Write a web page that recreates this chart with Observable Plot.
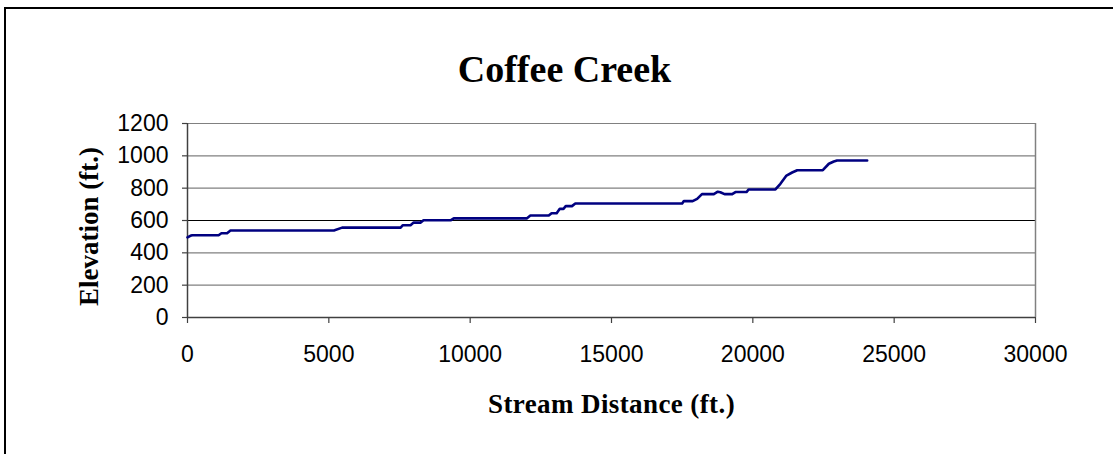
<!DOCTYPE html>
<html>
<head>
<meta charset="utf-8">
<script src="https://cdn.jsdelivr.net/npm/d3@7"></script>
<script src="https://cdn.jsdelivr.net/npm/@observablehq/plot@0.6"></script>
<style>
  html, body { margin: 0; padding: 0; background: #fff; overflow: hidden; }
  #wrap { position: relative; width: 1113px; height: 454px; overflow: hidden; }
  #frame { position: absolute; left: 4px; top: 7px; width: 2000px; height: 2000px; border: 2px solid #000; box-sizing: border-box; }
  #chart { position: absolute; left: 0; top: 0; }
</style>
</head>
<body>
<div id="wrap"><div id="frame"></div><div id="chart"></div></div>
<script>
const titleText = "Coffee Creek";
const xLabel = "Stream Distance (ft.)";
const yLabel = "Elevation (ft.)";
const xTicks = [0, 5000, 10000, 15000, 20000, 25000, 30000];
const yTicks = [0, 200, 400, 600, 800, 1000, 1200];

const distance = [0, 100, 170, 1100, 1200, 1400, 1520, 5180, 5470, 7540, 7620, 7890, 8000, 8240, 8350, 9320, 9420, 12000, 12130, 12780, 12880, 13060, 13170, 13300, 13380, 13600, 13720, 17500, 17560, 17870, 18030, 18200, 18620, 18760, 18850, 19000, 19270, 19385, 19775, 19855, 20800, 20975, 21190, 21390, 21570, 22475, 22690, 22865, 22980, 24045];
const elevation = [495, 505, 509, 509, 521, 521, 538, 538, 556, 556, 571, 571, 587, 587, 602, 602, 613, 613, 631, 631, 645, 645, 672, 672, 689, 689, 705, 705, 720, 720, 734, 763, 763, 778, 775, 763, 763, 776, 776, 792, 792, 827, 878, 897, 911, 911, 951, 965, 971, 971];

const data = distance.map((d, i) => ({distance: d, elevation: elevation[i]}));
const gridValues = yTicks.filter(v => v > 0);

const chart = Plot.plot({
  width: 1113,
  height: 454,
  marginLeft: 187,
  marginRight: 78,
  marginTop: 123,
  marginBottom: 137,
  style: {fontFamily: "'Liberation Sans', Arial, sans-serif", fontSize: "23px", color: "#000", background: "transparent", overflow: "visible"},
  x: {domain: [0, 30000]},
  y: {domain: [0, 1200]},
  marks: [
    Plot.ruleY(gridValues, {stroke: d => d === 600 ? "#000" : "#808080", strokeWidth: 1.2}),
    Plot.ruleX([30000], {stroke: "#808080", strokeWidth: 1.5}),
    Plot.axisX({ticks: xTicks, tickSize: 6, tickPadding: 22, label: null, tickFormat: d => String(d), stroke: "#404040", strokeWidth: 1.2}),
    Plot.axisY({ticks: yTicks, tickSize: 5, tickPadding: 14, label: null, tickFormat: d => String(d), stroke: "#404040", strokeWidth: 1.2}),
    Plot.ruleX([0], {stroke: "#404040", strokeWidth: 1.5}),
    Plot.ruleY([0], {stroke: "#404040", strokeWidth: 1.5}),
    Plot.line(data, {x: "distance", y: "elevation", stroke: "#000080", strokeWidth: 2.6}),
    Plot.text([titleText], {text: d => d, frameAnchor: "top", dx: -47, dy: -42, lineAnchor: "bottom", fontFamily: "'Liberation Serif', 'Times New Roman', serif", fontWeight: "bold", fontSize: 38, fill: "#000"}),
    Plot.text([xLabel], {text: d => d, frameAnchor: "bottom", dy: 95, lineAnchor: "bottom", fontFamily: "'Liberation Serif', 'Times New Roman', serif", fontWeight: "bold", fontSize: 27, fill: "#000"}),
    Plot.text([yLabel], {text: d => d, frameAnchor: "left", textAnchor: "middle", rotate: -90, dx: -90, dy: 6, lineAnchor: "bottom", fontFamily: "'Liberation Serif', 'Times New Roman', serif", fontWeight: "bold", fontSize: 27, fill: "#000"})
  ]
});
document.getElementById("chart").appendChild(chart);
d3.select(chart).selectAll("text").filter(function() { return this.textContent === xLabel; }).attr("letter-spacing", "0.4px");
</script>
</body>
</html>
